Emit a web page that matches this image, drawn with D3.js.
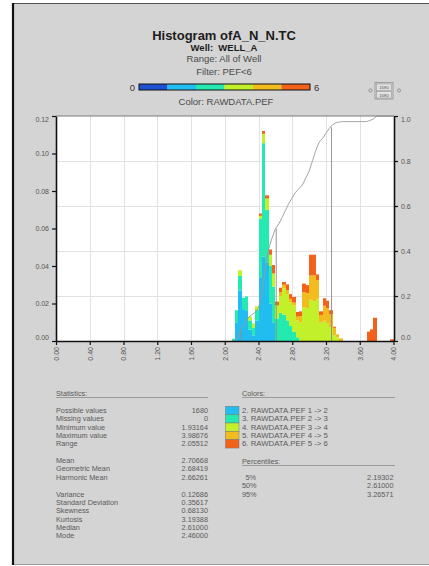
<!DOCTYPE html>
<html><head><meta charset="utf-8">
<script src="https://cdn.jsdelivr.net/npm/d3@7"></script>
<style>
html,body{margin:0;padding:0;background:#fff;}
svg{display:block;font-family:"Liberation Sans",Arial,sans-serif;}
</style></head><body>
<svg id="chart" width="429" height="566"></svg>
<script>
// Histogram bins (left edges, PEF units), fixed width
const binStarts = [2.08,2.12,2.16,2.20,2.24,2.28,2.32,2.36,2.40,2.44,2.48,2.52,2.56,2.60,2.64,2.68,2.72,2.76,2.80,2.84,2.88,2.92,2.96,3.00,3.04,3.08,3.12,3.16,3.20,3.24,3.28,3.32,3.36,3.68,3.72,3.76,3.96];
const binWidth = 0.04;

// Frequency contribution per colour class, one value per bin
const pef1to2 = [0,0.010,0.027,0.017,0.016,0.006,0.003,0.011,0.034,0.045,0.042,0.020,0.010,0,0,0,0,0,0,0,0,0,0,0,0,0,0,0,0,0,0,0,0,0,0,0,0];
const pef2to3 = [0.0012,0.0064,0.0077,0.0061,0.0078,0.005,0.004,0.0055,0.0313,0.0605,0.028,0.020,0.019,0.012,0.015,0.014,0.011,0.008,0.005,0.002,0,0,0,0,0,0,0,0,0,0,0,0,0,0,0,0,0];
const pef3to4 = [0,0,0.003,0,0,0.002,0.0024,0.002,0.0015,0.005,0.006,0.006,0.007,0.007,0.009,0.014,0.014,0.0125,0.014,0.009,0.0098,0.018,0.0175,0.022,0.021,0.0225,0.0098,0.0108,0.0095,0.0074,0.003,0.002,0,0,0,0,0];
const pef4to5 = [0,0,0,0,0,0,0,0,0,0,0,0,0,0,0.002,0.002,0.0022,0.002,0.0015,0.002,0.0035,0.008,0.008,0.013,0.014,0.010,0.004,0.008,0.008,0.007,0.004,0.0016,0.0014,0,0,0,0];
const pef5to6 = [0,0,0,0,0,0,0,0,0.0012,0.0015,0.0017,0.0028,0.0045,0.002,0.0024,0.0015,0.003,0.0025,0.003,0.0025,0.0025,0.0046,0.0043,0.011,0.011,0.003,0.002,0.004,0.004,0.002,0.0006,0,0,0.005,0.0062,0.0124,0.0009];

const seriesNames = ["2. RAWDATA.PEF 1 -> 2","3. RAWDATA.PEF 2 -> 3","4. RAWDATA.PEF 3 -> 4","5. RAWDATA.PEF 4 -> 5","6. RAWDATA.PEF 5 -> 6"];
const seriesColors = ["#22bdf0","#24eab0","#c2f02a","#f2bc1e","#f2621a"];

// Colour scale bar, PEF 0 -> 6
const colorBarStops = [0,1,2,3,4,5];
const colorBarColors = ["#1e50d2","#22bdf0","#24eab0","#c2f02a","#f2bc1e","#f2621a"];

const xTicks = [0,0.4,0.8,1.2,1.6,2.0,2.4,2.8,3.2,3.6,4.0];
const leftTicks = [0,0.02,0.04,0.06,0.08,0.10,0.12];
const rightTicks = [0,0.2,0.4,0.6,0.8,1.0];

const statsBasic = [["Possible values","1680"],["Missing values","0"],["Minimum value","1.93164"],["Maximum value","3.98676"],["Range","2.05512"]];
const statsMeans = [["Mean","2.70668"],["Geometric Mean","2.68419"],["Harmonic Mean","2.66261"]];
const statsMoments = [["Variance","0.12686"],["Standard Deviation","0.35617"],["Skewness","0.68130"],["Kurtosis","3.19388"],["Median","2.61000"],["Mode","2.46000"]];
const percentileLabels = ["5%","50%","95%"];
const percentileLevels = [0.05,0.50,0.95];
const percentileValues = [2.19302,2.61000,3.26571];

const svg = d3.select("#chart");
const W = 429, H = 566;

// Panel
svg.append("rect").attr("x",13).attr("y",3).attr("width",W-13).attr("height",562).attr("fill","#d4d4d4");
svg.append("line").attr("x1",13).attr("x2",W).attr("y1",3.5).attr("y2",3.5).attr("stroke","#555").attr("stroke-width",1);
svg.append("line").attr("x1",13).attr("x2",W).attr("y1",564.5).attr("y2",564.5).attr("stroke","#9a9a9a").attr("stroke-width",1);
svg.append("line").attr("x1",13).attr("x2",13).attr("y1",3).attr("y2",565).attr("stroke","#111").attr("stroke-width",2.2);

// Titles
const cx = 224;
svg.append("text").attr("x",cx).attr("y",40).attr("text-anchor","middle").attr("font-size",13).attr("font-weight","bold").attr("fill","#1c1c1c").text("Histogram ofA_N_N.TC");
svg.append("text").attr("x",cx).attr("y",50.5).attr("text-anchor","middle").attr("font-size",9.5).attr("font-weight","bold").attr("fill","#1c1c1c").attr("xml:space","preserve").text("Well:  WELL_A");
svg.append("text").attr("x",cx).attr("y",62).attr("text-anchor","middle").attr("font-size",9.5).attr("fill","#4a4a4a").text("Range: All of Well");
svg.append("text").attr("x",cx).attr("y",75).attr("text-anchor","middle").attr("font-size",9.5).attr("fill","#4a4a4a").text("Filter: PEF<6");

// Colour bar
const cb = d3.scaleLinear().domain([0,6]).range([139,310]);
svg.append("g").selectAll("rect").data(colorBarStops).join("rect")
  .attr("x",d=>cb(d)).attr("y",84).attr("width",d=>cb(d+1)-cb(d)).attr("height",6)
  .attr("fill",(d,i)=>colorBarColors[i]);
svg.append("rect").attr("x",cb(0)).attr("y",84).attr("width",cb(6)-cb(0)).attr("height",6).attr("fill","none").attr("stroke","#111").attr("stroke-width",1);
svg.append("text").attr("x",cb(0)-4).attr("y",90.5).attr("text-anchor","end").attr("font-size",9.5).attr("fill","#333").text("0");
svg.append("text").attr("x",cb(6)+4).attr("y",90.5).attr("text-anchor","start").attr("font-size",9.5).attr("fill","#333").text("6");
svg.append("text").attr("x",226).attr("y",104.5).attr("text-anchor","middle").attr("font-size",9.5).attr("fill","#4a4a4a").text("Color: RAWDATA.PEF");

// Small count widget
const wg = svg.append("g");
wg.append("circle").attr("cx",370.5).attr("cy",90.5).attr("r",1.6).attr("fill","none").attr("stroke","#777").attr("stroke-width",0.7);
wg.append("circle").attr("cx",399).attr("cy",90.5).attr("r",1.6).attr("fill","none").attr("stroke","#777").attr("stroke-width",0.7);
wg.append("rect").attr("x",375).attr("y",82.5).attr("width",18).attr("height",16.5).attr("fill","none").attr("stroke","#888").attr("stroke-width",0.7);
wg.append("rect").attr("x",376.5).attr("y",84).attr("width",15).attr("height",6.5).attr("fill","#e2e2e2").attr("stroke","#888").attr("stroke-width",0.5);
wg.append("rect").attr("x",376.5).attr("y",91.5).attr("width",15).attr("height",6.5).attr("fill","#e2e2e2").attr("stroke","#888").attr("stroke-width",0.5);
wg.append("text").attr("x",384).attr("y",89.3).attr("text-anchor","middle").attr("font-size",4.3).attr("fill","#555").text(statsBasic[0][1]);
wg.append("text").attr("x",384).attr("y",96.8).attr("text-anchor","middle").attr("font-size",4.3).attr("fill","#555").text(statsBasic[0][1]);

// Plot area
const x = d3.scaleLinear().domain([0,4]).range([56,393.5]);
const yL = d3.scaleLinear().domain([0,0.12]).range([341,116]);
const yR = d3.scaleLinear().domain([0,1]).range([341,116]);

svg.append("rect").attr("x",56).attr("y",116).attr("width",338).attr("height",225).attr("fill","#fff");

// Grid
const grid = svg.append("g").attr("stroke","#e2e2e2").attr("stroke-width",1);
grid.selectAll("line.v").data(xTicks.slice(1,-1)).join("line").attr("class","v")
  .attr("x1",d=>Math.round(x(d))+0.5).attr("x2",d=>Math.round(x(d))+0.5).attr("y1",116).attr("y2",341);
grid.selectAll("line.h").data(rightTicks.slice(1,-1)).join("line").attr("class","h")
  .attr("x1",56).attr("x2",394).attr("y1",d=>Math.round(yR(d))+0.5).attr("y2",d=>Math.round(yR(d))+0.5);

// Stacked bars (edges snapped to whole pixels so neighbouring bins touch)
const rows = binStarts.map((b,i)=>({b, s0:pef1to2[i], s1:pef2to3[i], s2:pef3to4[i], s3:pef4to5[i], s4:pef5to6[i]}));
const stack = d3.stack().keys(["s0","s1","s2","s3","s4"])(rows);
const px = v => Math.round(v);
svg.append("g").selectAll("g").data(stack).join("g").attr("fill",(d,i)=>seriesColors[i])
  .selectAll("rect").data(d=>d.filter(s=>s[1]-s[0]>0)).join("rect")
  .attr("x",d=>px(x(d.data.b))).attr("width",d=>px(x(d.data.b+binWidth))-px(x(d.data.b)))
  .attr("y",d=>yL(d[1])).attr("height",d=>yL(d[0])-yL(d[1]));

// Cumulative frequency curve (right axis)
const totals = rows.map(r=>r.s0+r.s1+r.s2+r.s3+r.s4);
const grand = d3.sum(totals);
const cumPts = [[binStarts[0],0]];
let acc = 0;
binStarts.forEach((b,i)=>{
  if (i>0 && Math.abs(binStarts[i-1]+binWidth-b)>1e-9) cumPts.push([b, acc/grand]);
  acc += totals[i];
  cumPts.push([b+binWidth, acc/grand]);
});
svg.append("path").datum(cumPts).attr("fill","none").attr("stroke","#9a9a9a").attr("stroke-width",0.9)
  .attr("d",d3.line().x(d=>x(d[0])).y(d=>yR(d[1])));

// Percentile markers
svg.append("g").selectAll("line").data(percentileValues).join("line")
  .attr("x1",d=>x(d)).attr("x2",d=>x(d)).attr("y1",yR(0)).attr("y2",(d,i)=>yR(percentileLevels[i]))
  .attr("stroke","#8a8a8a").attr("stroke-width",0.9);

// Frame
svg.append("line").attr("x1",56).attr("x2",394).attr("y1",116).attr("y2",116).attr("stroke","#7a7a7a").attr("stroke-width",1);

// Axes
function styleAxis(g){
  g.select(".domain").attr("stroke","#111").attr("stroke-width",1.6);
  g.selectAll(".tick line").attr("stroke","#111").attr("stroke-width",1.2);
  g.selectAll(".tick text").attr("fill","#555").attr("font-size",7).attr("font-family","Liberation Sans, Arial, sans-serif");
}
const gL = svg.append("g").attr("transform","translate(56,0)")
  .call(d3.axisLeft(yL).tickValues(leftTicks).tickFormat(d3.format(".2f")).tickSize(4).tickSizeOuter(0).tickPadding(3));
styleAxis(gL);
gL.selectAll(".tick text").attr("dy",(d)=> d===0 ? "-0.15em" : (d===0.12 ? "0.75em" : "0.32em"));

const gR = svg.append("g").attr("transform","translate(394,0)")
  .call(d3.axisRight(yR).tickValues(rightTicks).tickFormat(d3.format(".1f")).tickSize(4).tickSizeOuter(0).tickPadding(3));
styleAxis(gR);
gR.selectAll(".tick text").attr("dy",(d)=> d===0 ? "-0.15em" : (d===1 ? "0.75em" : "0.32em"));

const gB = svg.append("g").attr("transform","translate(0,341)")
  .call(d3.axisBottom(x).tickValues(xTicks).tickFormat(d3.format(".2f")).tickSize(4).tickSizeOuter(0));
styleAxis(gB);
gB.selectAll(".tick text").attr("transform","rotate(-90)").attr("x",-6).attr("y",0).attr("dy","0.35em").attr("text-anchor","end");

// Statistics block
const rowY0 = 410.5, rowStep = 8.35;
const txt = "#5a5a5a";
function header(xl, xr, y, label){
  svg.append("text").attr("x",xl).attr("y",y).attr("font-size",7.3).attr("fill",txt).attr("dominant-baseline","central").text(label);
  svg.append("line").attr("x1",xl).attr("x2",xr).attr("y1",y+4.5).attr("y2",y+4.5).attr("stroke","#8c8c8c").attr("stroke-width",0.8);
}
header(56,208,393,"Statistics:");
header(242,395,393,"Colors:");
header(242,395,461,"Percentiles:");

function statRows(list, startRow){
  const g = svg.append("g").attr("font-size",7.3).attr("fill",txt);
  list.forEach((r,i)=>{
    const y = rowY0 + (startRow+i)*rowStep;
    g.append("text").attr("x",56).attr("y",y).attr("dominant-baseline","central").text(r[0]);
    g.append("text").attr("x",208).attr("y",y).attr("text-anchor","end").attr("dominant-baseline","central").text(r[1]);
  });
}
statRows(statsBasic,0);
statRows(statsMeans,6);
statRows(statsMoments,10);

// Colour legend
const lg = svg.append("g");
seriesNames.forEach((n,i)=>{
  const y = rowY0 + i*rowStep;
  lg.append("rect").attr("x",225.5).attr("y",y-4.2).attr("width",13.5).attr("height",rowStep).attr("fill",seriesColors[i]).attr("stroke","#777").attr("stroke-width",0.5);
  lg.append("text").attr("x",242).attr("y",y).attr("font-size",7.8).attr("fill",txt).attr("dominant-baseline","central").text(n);
});

// Percentiles
percentileLabels.forEach((p,i)=>{
  const y = rowY0 + (8+i)*rowStep;
  svg.append("text").attr("x",p.length<3?245.5:242).attr("y",y).attr("font-size",7.3).attr("fill",txt).attr("dominant-baseline","central").text(p);
  svg.append("text").attr("x",393.5).attr("y",y).attr("text-anchor","end").attr("font-size",7.3).attr("fill",txt).attr("dominant-baseline","central").text(d3.format(".5f")(percentileValues[i]));
});
</script>
</body></html>
